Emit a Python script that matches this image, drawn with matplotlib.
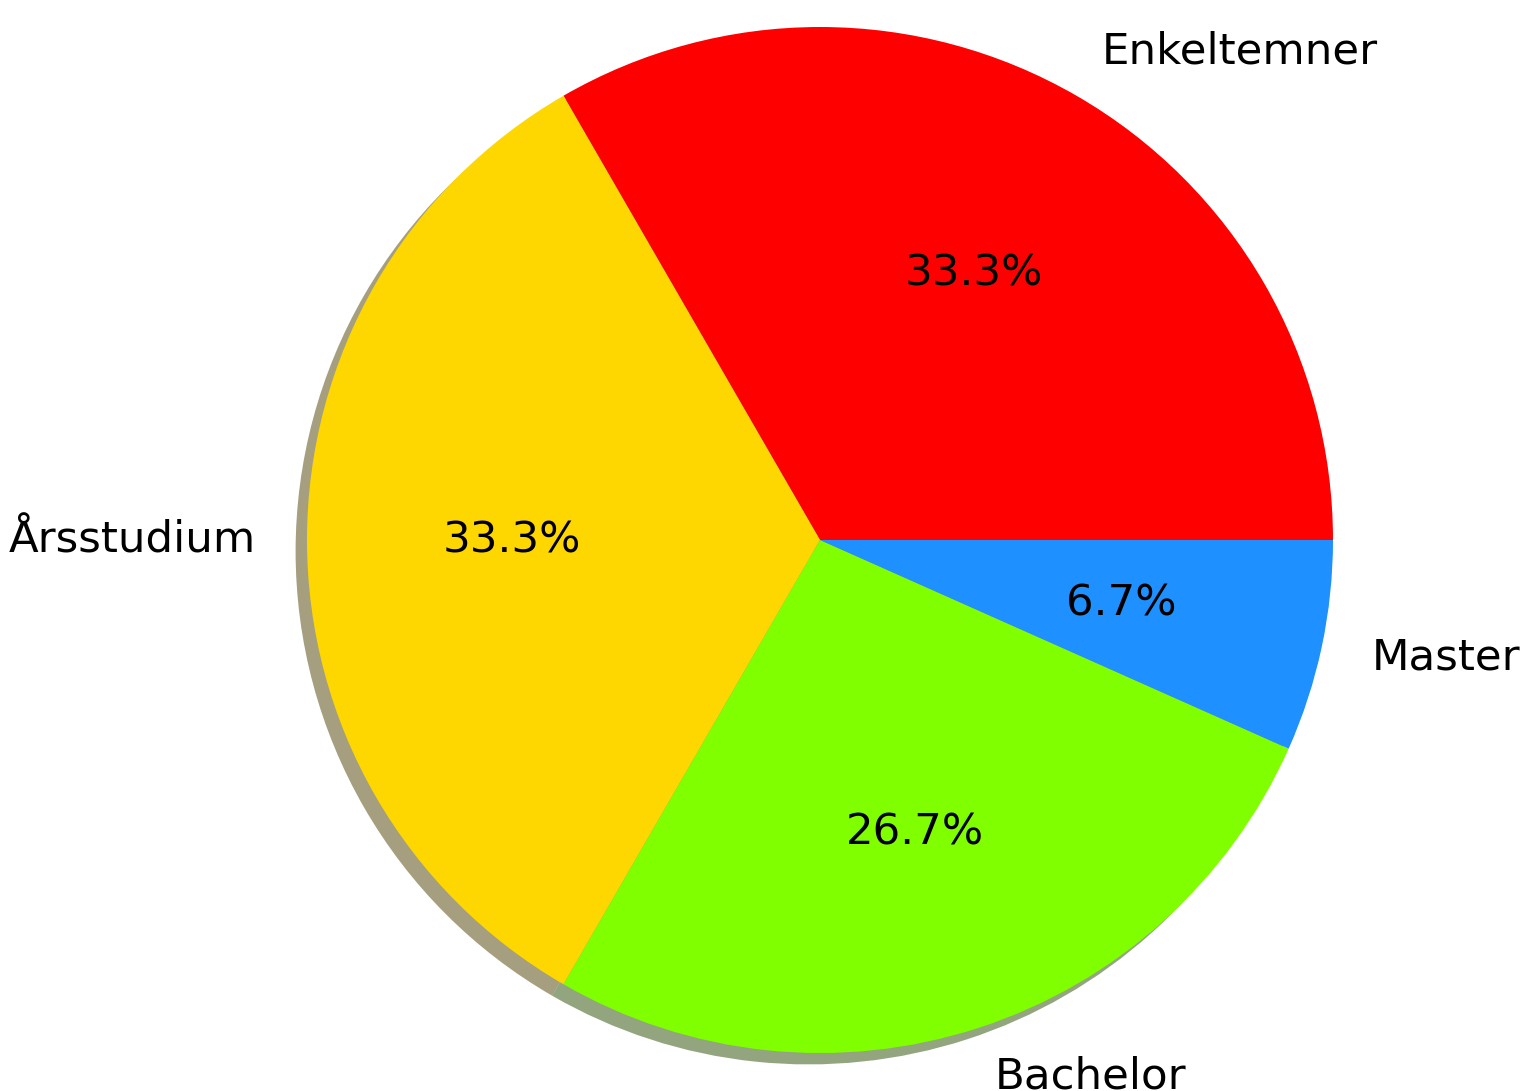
import matplotlib
matplotlib.use("Agg")
import matplotlib.pyplot as plt

# data
labels = ["Enkeltemner", "Årsstudium", "Bachelor", "Master"]
counts = [5, 5, 4, 1]
colors = ["red", "gold", "chartreuse", "dodgerblue"]

fig = plt.figure(figsize=(15.22, 10.91), dpi=100)
ax = fig.add_axes([0, 0, 1, 1])
# Shadow offsets get scaled by dpi/72, so keep them a bit smaller
ax.pie(counts, labels=labels, colors=colors, autopct="%1.1f%%",
       shadow={"ox": -0.016, "oy": -0.016, "edgecolor": "none"},
       startangle=0, textprops={"fontsize": 31.3})

# place the pie: centre at (820, 540) px, radius ~513 px
scale = 513.0
ax.set_aspect("auto")
ax.set_xlim(-820 / scale, (1522 - 820) / scale)
ax.set_ylim(-(1091 - 540) / scale, 540 / scale)
ax.axis("off")

fig.savefig("out.png", dpi=100)
